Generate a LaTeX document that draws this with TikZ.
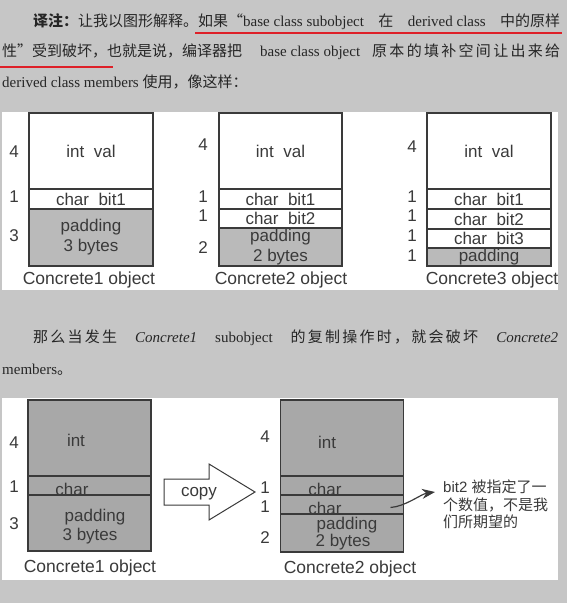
\documentclass[tikz,border=0pt]{standalone}
\usepackage{fontspec}
\setmainfont{Liberation Serif}
\setsansfont{Liberation Sans}
\newfontfamily\cjk{Noto Sans CJK SC}
\newfontfamily\cjkwide[LetterSpace=15]{Noto Sans CJK SC}
\newcommand{\zh}[1]{{\cjk #1}}
\newcommand{\zhw}[1]{{\cjkwide #1}}
% stretch glue in front of each character up to \relax
\def\zhsp#1{\ifx\relax#1\else\hskip 0pt plus 1fil#1\expandafter\zhsp\fi}
\usetikzlibrary{positioning}
\usetikzlibrary{arrows.meta}
\definecolor{paper}{RGB}{198,198,198}
\definecolor{padgray}{RGB}{186,186,186}
\definecolor{darkcell}{RGB}{168,168,168}
\definecolor{ink}{RGB}{58,58,58}
\definecolor{marker}{RGB}{222,32,40}

\begin{document}
\begin{tikzpicture}[x=1pt,y=-1pt]
		\tikzset{cell/.style = {shape=rectangle,draw=ink,line width=1.1pt,fill=white,minimum width=124pt,inner sep=0pt,outer sep=0pt,align=center,text=ink,font=\sffamily\fontsize{17}{20}\selectfont}}
		\tikzset{pad/.style = {cell,fill=padgray}}
		\tikzset{dcell/.style = {cell,fill=darkcell,minimum width=123pt,line width=1.4pt}}
		\tikzset{size/.style = {text=ink,inner sep=0pt,font=\sffamily\fontsize{17}{20}\selectfont}}
		\tikzset{caption/.style = {size,font=\sffamily\fontsize{17.5}{21}\selectfont}}
		\tikzset{para/.style = {inner sep=0pt,anchor=west,text=black!85,font=\fontsize{15}{18}\selectfont}}
		\tikzset{hit/.style = {-{Stealth[length=13pt,width=10pt]},draw=ink,line width=1.2pt}}
		\useasboundingbox (0,0) rectangle (567,603);
		\fill[paper] (0,0) rectangle (567,603);
		\fill[white] (2,112) rectangle (558,290);
		\fill[white] (2,398) rectangle (558,580);
		
		% text
		\node[para] (t1) at (33,22) {\makebox[527pt][s]{\zh{\bfseries 译注：}\zh{让我以图形解释。如果“}\mbox{base class subobject} \zh{在} \mbox{derived class} \zh{中的原样}}};
		\node[para] (t2) at (2,52) {\hbox to 558pt{\zh{性”受到破坏，也就是说，编译器把}\hspace{18pt}base class object\hspace{12pt}\zh{原\zhsp 本的填补空间让出来给\relax}}};
		\node[para] (t3) at (2,82) {derived class members \zh{使用，像这样：}};
		\draw[marker,line width=2.5pt] (195,33) -- (562,33);
		\draw[marker,line width=2.5pt] (0,67) -- (113,67);
		
		% Concrete1
		\node[cell,minimum height=76pt] (a1) at (91,151) {int\ \ val};
		\node[cell,minimum height=20pt,below=0pt of a1] (a2) {char\ \ bit1};
		\node[pad,minimum height=57pt,below=0pt of a2] (a3) {padding\\3 bytes};
		\node[size] (a1n) at (14,152) {4};
		\node[size] (a2n) at (14,197) {1};
		\node[size] (a3n) at (14,236) {3};
		\node[caption] (acap) at (89,280) {Concrete1 object};
		
		% Concrete2
		\node[cell,minimum height=76pt,minimum width=123pt] (b1) at (280.5,151) {int\ \ val};
		\node[cell,minimum height=20pt,minimum width=123pt,below=0pt of b1] (b2) {char\ \ bit1};
		\node[cell,minimum height=19pt,minimum width=123pt,below=0pt of b2] (b3) {char\ \ bit2};
		\node[pad,minimum height=38pt,minimum width=123pt,below=0pt of b3] (b4) {padding\\2 bytes};
		\node[size] (b1n) at (203,145) {4};
		\node[size] (b2n) at (203,197) {1};
		\node[size] (b3n) at (203,216) {1};
		\node[size] (b4n) at (203,248) {2};
		\node[caption] (bcap) at (281,280) {Concrete2 object};
		
		% Concrete3
		\node[cell,minimum height=76pt] (c1) at (489,151) {int\ \ val};
		\node[cell,minimum height=20pt,below=0pt of c1] (c2) {char\ \ bit1};
		\node[cell,minimum height=20pt,below=0pt of c2] (c3) {char\ \ bit2};
		\node[cell,minimum height=19pt,below=0pt of c3] (c4) {char\ \ bit3};
		\node[pad,minimum height=18pt,below=0pt of c4] (c5) {padding};
		\node[size] (c1n) at (412,147) {4};
		\node[size] (c2n) at (412,197) {1};
		\node[size] (c3n) at (412,216) {1};
		\node[size] (c4n) at (412,236) {1};
		\node[size] (c5n) at (412,256) {1};
		\node[caption] (ccap) at (492,280) {Concrete3 object};
		
		% text
		\node[para] (t4) at (33,338) {\makebox[525pt][s]{\zhw{那么当发生} \textit{Concrete1} subobject \zhw{的复制操作时，就会破坏} \textit{Concrete2}}};
		\node[para] (t5) at (2,370) {members\zh{。}};
		
		% copy source
		\node[dcell,minimum height=76pt] (d1) at (89.5,438) {};
		\node[dcell,minimum height=19pt,below=0pt of d1] (d2) {};
		\node[dcell,minimum height=56pt,below=0pt of d2] (d3) {};
		\node[size] at (76,440) {int};
		\node[size] at (72,489) {char};
		\node[size] at (95,517) {padding};
		\node[size] at (90,536) {3 bytes};
		\node[size] (d1n) at (14,443) {4};
		\node[size] (d2n) at (14,487) {1};
		\node[size] (d3n) at (14,524) {3};
		\node[caption] (dcap) at (90,568) {Concrete1 object};
		
		% copy arrow
		\draw[ink,fill=white,line width=1pt] (164,479) -- (209,479) -- (209,464) -- (255,492) -- (209,520) -- (209,505) -- (164,505) -- cycle;
		\node[size] (copy) at (199,494) {copy};
		
		% copy target
		\node[dcell,minimum height=76pt] (e1) at (342,438) {};
		\node[dcell,minimum height=19pt,below=0pt of e1] (e2) {};
		\node[dcell,minimum height=19pt,below=0pt of e2] (e3) {};
		\node[dcell,minimum height=38pt,below=0pt of e3] (e4) {};
		\node[size] at (327,442) {int};
		\node[size] at (325,489) {char};
		\node[size] at (325,508) {char};
		\node[size] at (347,525) {padding};
		\node[size] at (343,542) {2 bytes};
		\node[size] (e1n) at (265,437) {4};
		\node[size] (e2n) at (265,488) {1};
		\node[size] (e3n) at (265,507) {1};
		\node[size] (e4n) at (265,538) {2};
		\node[caption] (ecap) at (350,569) {Concrete2 object};
		
		\node[anchor=north west,align=left,inner sep=0pt,text=ink,font=\sffamily\fontsize{15}{17.5}\selectfont] (note) at (443,480) {bit2 \zh{被指定了一}\\\zh{个数值，不是我}\\\zh{们所期望的}};
		
		%edges
		\draw[hit] ([xshift=-13pt,yshift=-3pt]e3.east) .. controls +(15,-1) and +(-14,2) .. ([xshift=-8pt,yshift=-12pt]note.north west);
		
\end{tikzpicture}
\end{document}
